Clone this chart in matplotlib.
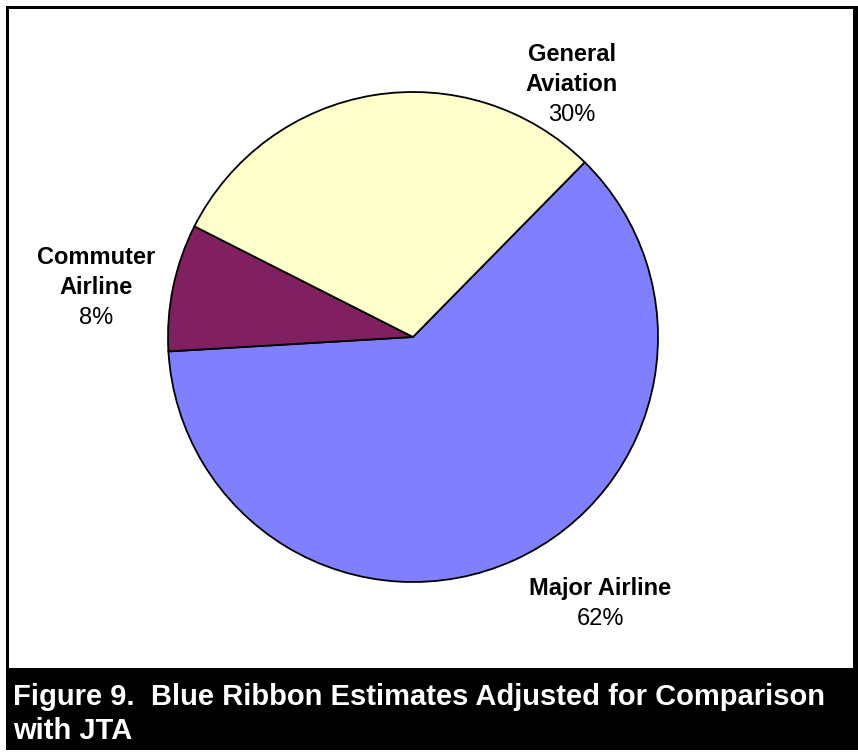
import matplotlib.pyplot as plt
from matplotlib.patches import Rectangle

plt.rcParams['font.family'] = ['Liberation Sans', 'DejaVu Sans']

# slice data (clockwise from the upper right)
categories = ['Major Airline', 'Commuter Airline', 'General Aviation']
shares = [61.7, 8.4, 29.9]
pct_labels = ['62%', '8%', '30%']
colors = ['#8080FF', '#802060', '#FFFFCC']
name_lines = [['Major Airline'], ['Commuter', 'Airline'], ['General', 'Aviation']]
# label anchor: x centre, baseline of first line (pixels from top)
label_pos = [(600, 595), (96, 264), (572, 61)]

caption = ['Figure 9.  Blue Ribbon Estimates Adjusted for Comparison', 'with JTA']

W, H = 858, 753
fig = plt.figure(figsize=(W / 100, H / 100), dpi=100)
ax = fig.add_axes([0, 0, 1, 1])

def yy(y):
    # pixel rows (top down) -> data y (bottom up)
    return H - y

# frame + black caption bar
ax.add_patch(Rectangle((6, yy(750)), 852, 744, facecolor='black', edgecolor='none', zorder=0))
ax.add_patch(Rectangle((9, yy(668)), 844, 659, facecolor='white', edgecolor='none', zorder=0))

ax.pie(shares, colors=colors, startangle=45.5, counterclock=False,
       center=(413, yy(337)), radius=245,
       wedgeprops=dict(edgecolor='black', linewidth=1.3))

fs = 17
step = 30
for lines, pct, (x, y) in zip(name_lines, pct_labels, label_pos):
    for i, s in enumerate(lines):
        ax.text(x, yy(y + i * step), s, ha='center', va='baseline',
                fontsize=fs, fontweight='bold', color='black')
    ax.text(x, yy(y + len(lines) * step), pct, ha='center', va='baseline',
            fontsize=fs, color='black')

ax.text(13, yy(705), caption[0], ha='left', va='baseline', fontsize=21,
        fontweight='bold', color='white')
ax.text(13, yy(739), caption[1], ha='left', va='baseline', fontsize=21,
        fontweight='bold', color='white')

ax.set_xlim(0, W)
ax.set_ylim(0, H)
ax.set_aspect('equal')
ax.axis('off')

fig.savefig('out.png', dpi=100)
